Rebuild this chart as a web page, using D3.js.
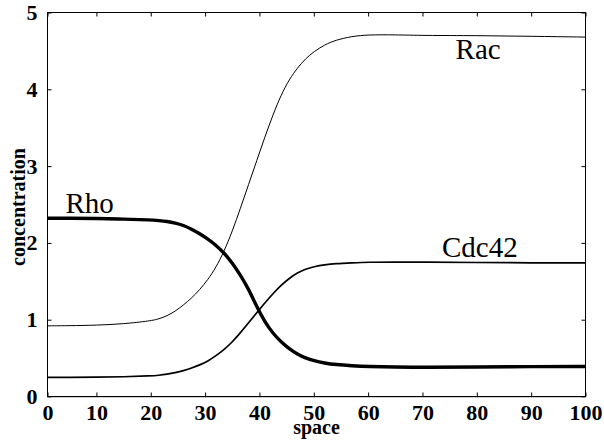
<!DOCTYPE html>
<html>
<head>
<meta charset="utf-8">
<script src="https://cdn.jsdelivr.net/npm/d3@7"></script>
<style>
  body { margin: 0; background: #fff; }
  svg { display: block; }
  text { font-family: 'Liberation Serif', 'Times New Roman', 'DejaVu Serif', serif; fill: #000; }
  .tick text { font-weight: bold; font-size: 22px; }
  .tick line { stroke: #000; }
</style>
</head>
<body>
<div id="chart"></div>
<script>
// space coordinate of the samples (grid index runs 1..100)
const space = [1, 5, 10, 15, 20, 21.5, 23, 24.5, 26, 27.5, 29, 30.5, 32, 33.5, 35, 36.5, 38, 39.5, 41, 42.5, 44, 45.5, 47, 48.5, 50, 52, 54, 57, 60, 65, 70, 80, 90, 100];

const rac = [0.92, 0.922, 0.928, 0.945, 0.985, 1.01, 1.05, 1.11, 1.19, 1.28, 1.39, 1.52, 1.68, 1.89, 2.15, 2.45, 2.76, 3.07, 3.38, 3.67, 3.93, 4.13, 4.28, 4.40, 4.49, 4.58, 4.64, 4.69, 4.71, 4.71, 4.70, 4.70, 4.69, 4.68];
const rho = [2.32, 2.32, 2.32, 2.31, 2.30, 2.29, 2.28, 2.26, 2.23, 2.18, 2.12, 2.05, 1.97, 1.87, 1.74, 1.58, 1.40, 1.17, 0.97, 0.82, 0.71, 0.62, 0.55, 0.50, 0.465, 0.435, 0.415, 0.40, 0.39, 0.385, 0.38, 0.385, 0.39, 0.39];
const cdc42 = [0.25, 0.25, 0.25, 0.256, 0.268, 0.276, 0.29, 0.31, 0.335, 0.37, 0.41, 0.46, 0.53, 0.61, 0.71, 0.83, 0.96, 1.09, 1.22, 1.34, 1.45, 1.54, 1.61, 1.66, 1.69, 1.715, 1.73, 1.74, 1.75, 1.75, 1.75, 1.745, 1.74, 1.74];

const xTicks = [1, 10, 20, 30, 40, 50, 60, 70, 80, 90, 100];
const yTicks = [0, 1, 2, 3, 4, 5];

// curve name, label anchor (space, concentration)
const labels = [
  { name: "Rho", x: 4.3, y: 2.39 },
  { name: "Rac", x: 76.1, y: 4.39 },
  { name: "Cdc42", x: 73.6, y: 1.82 }
];

const W = 604, H = 443;
const pLeft = 47.5, pRight = 585.5, pTop = 12.5, pBottom = 396.5;

const svg = d3.select("#chart").append("svg")
  .attr("width", W)
  .attr("height", H);

const x = d3.scaleLinear().domain([1, 100]).range([pLeft, pRight]);
const y = d3.scaleLinear().domain([0, 5]).range([pBottom, pTop]);

// axes, ticks pointing inwards on all four sides
const xBottom = d3.axisBottom(x).tickValues(xTicks).tickSize(-4).tickPadding(8)
  .tickFormat(d => d === 1 ? "0" : String(d));
svg.append("g").attr("transform", `translate(0,${pBottom})`).call(xBottom)
  .call(g => g.select(".domain").remove());

svg.append("g").attr("transform", `translate(0,${pTop})`)
  .call(d3.axisTop(x).tickValues(xTicks).tickSize(-4).tickFormat(""))
  .call(g => g.select(".domain").remove());

svg.append("g").attr("transform", `translate(${pLeft},0)`)
  .call(d3.axisLeft(y).tickValues(yTicks).tickSize(-4).tickPadding(10).tickFormat(d3.format("d")))
  .call(g => g.select(".domain").remove());

svg.append("g").attr("transform", `translate(${pRight},0)`)
  .call(d3.axisRight(y).tickValues(yTicks).tickSize(-4).tickFormat(""))
  .call(g => g.select(".domain").remove());

svg.selectAll("g").attr("font-family", null).attr("font-size", null);

// frame
svg.append("rect")
  .attr("x", pLeft).attr("y", pTop)
  .attr("width", pRight - pLeft).attr("height", pBottom - pTop)
  .attr("fill", "none").attr("stroke", "#000").attr("stroke-width", 1);

// faint dotted line under the x axis
svg.append("line")
  .attr("x1", pLeft).attr("x2", pRight)
  .attr("y1", pBottom + 1).attr("y2", pBottom + 1)
  .attr("stroke", "#999").attr("stroke-dasharray", "1,1");

// curves
const line = d3.line()
  .x((d, i) => x(space[i]))
  .y(d => y(d))
  .curve(d3.curveBasis);

svg.append("path").datum(rac).attr("d", line)
  .attr("fill", "none").attr("stroke", "#000").attr("stroke-width", 1);
svg.append("path").datum(cdc42).attr("d", line)
  .attr("fill", "none").attr("stroke", "#000").attr("stroke-width", 1.7);
svg.append("path").datum(rho).attr("d", line)
  .attr("fill", "none").attr("stroke", "#000").attr("stroke-width", 3.4);

// curve labels
svg.selectAll(".lab").data(labels).enter().append("text")
  .attr("class", "lab")
  .attr("x", d => x(d.x))
  .attr("y", d => y(d.y))
  .attr("font-size", 29)
  .text(d => d.name);

// axis titles
svg.append("text")
  .attr("x", (pLeft + pRight) / 2)
  .attr("y", 434)
  .attr("text-anchor", "middle")
  .attr("font-weight", "bold")
  .attr("font-size", 20)
  .text("space");

svg.append("text")
  .attr("transform", "translate(24.5,207) rotate(-90)")
  .attr("text-anchor", "middle")
  .attr("font-weight", "bold")
  .attr("font-size", 20)
  .text("concentration");
</script>
</body>
</html>
